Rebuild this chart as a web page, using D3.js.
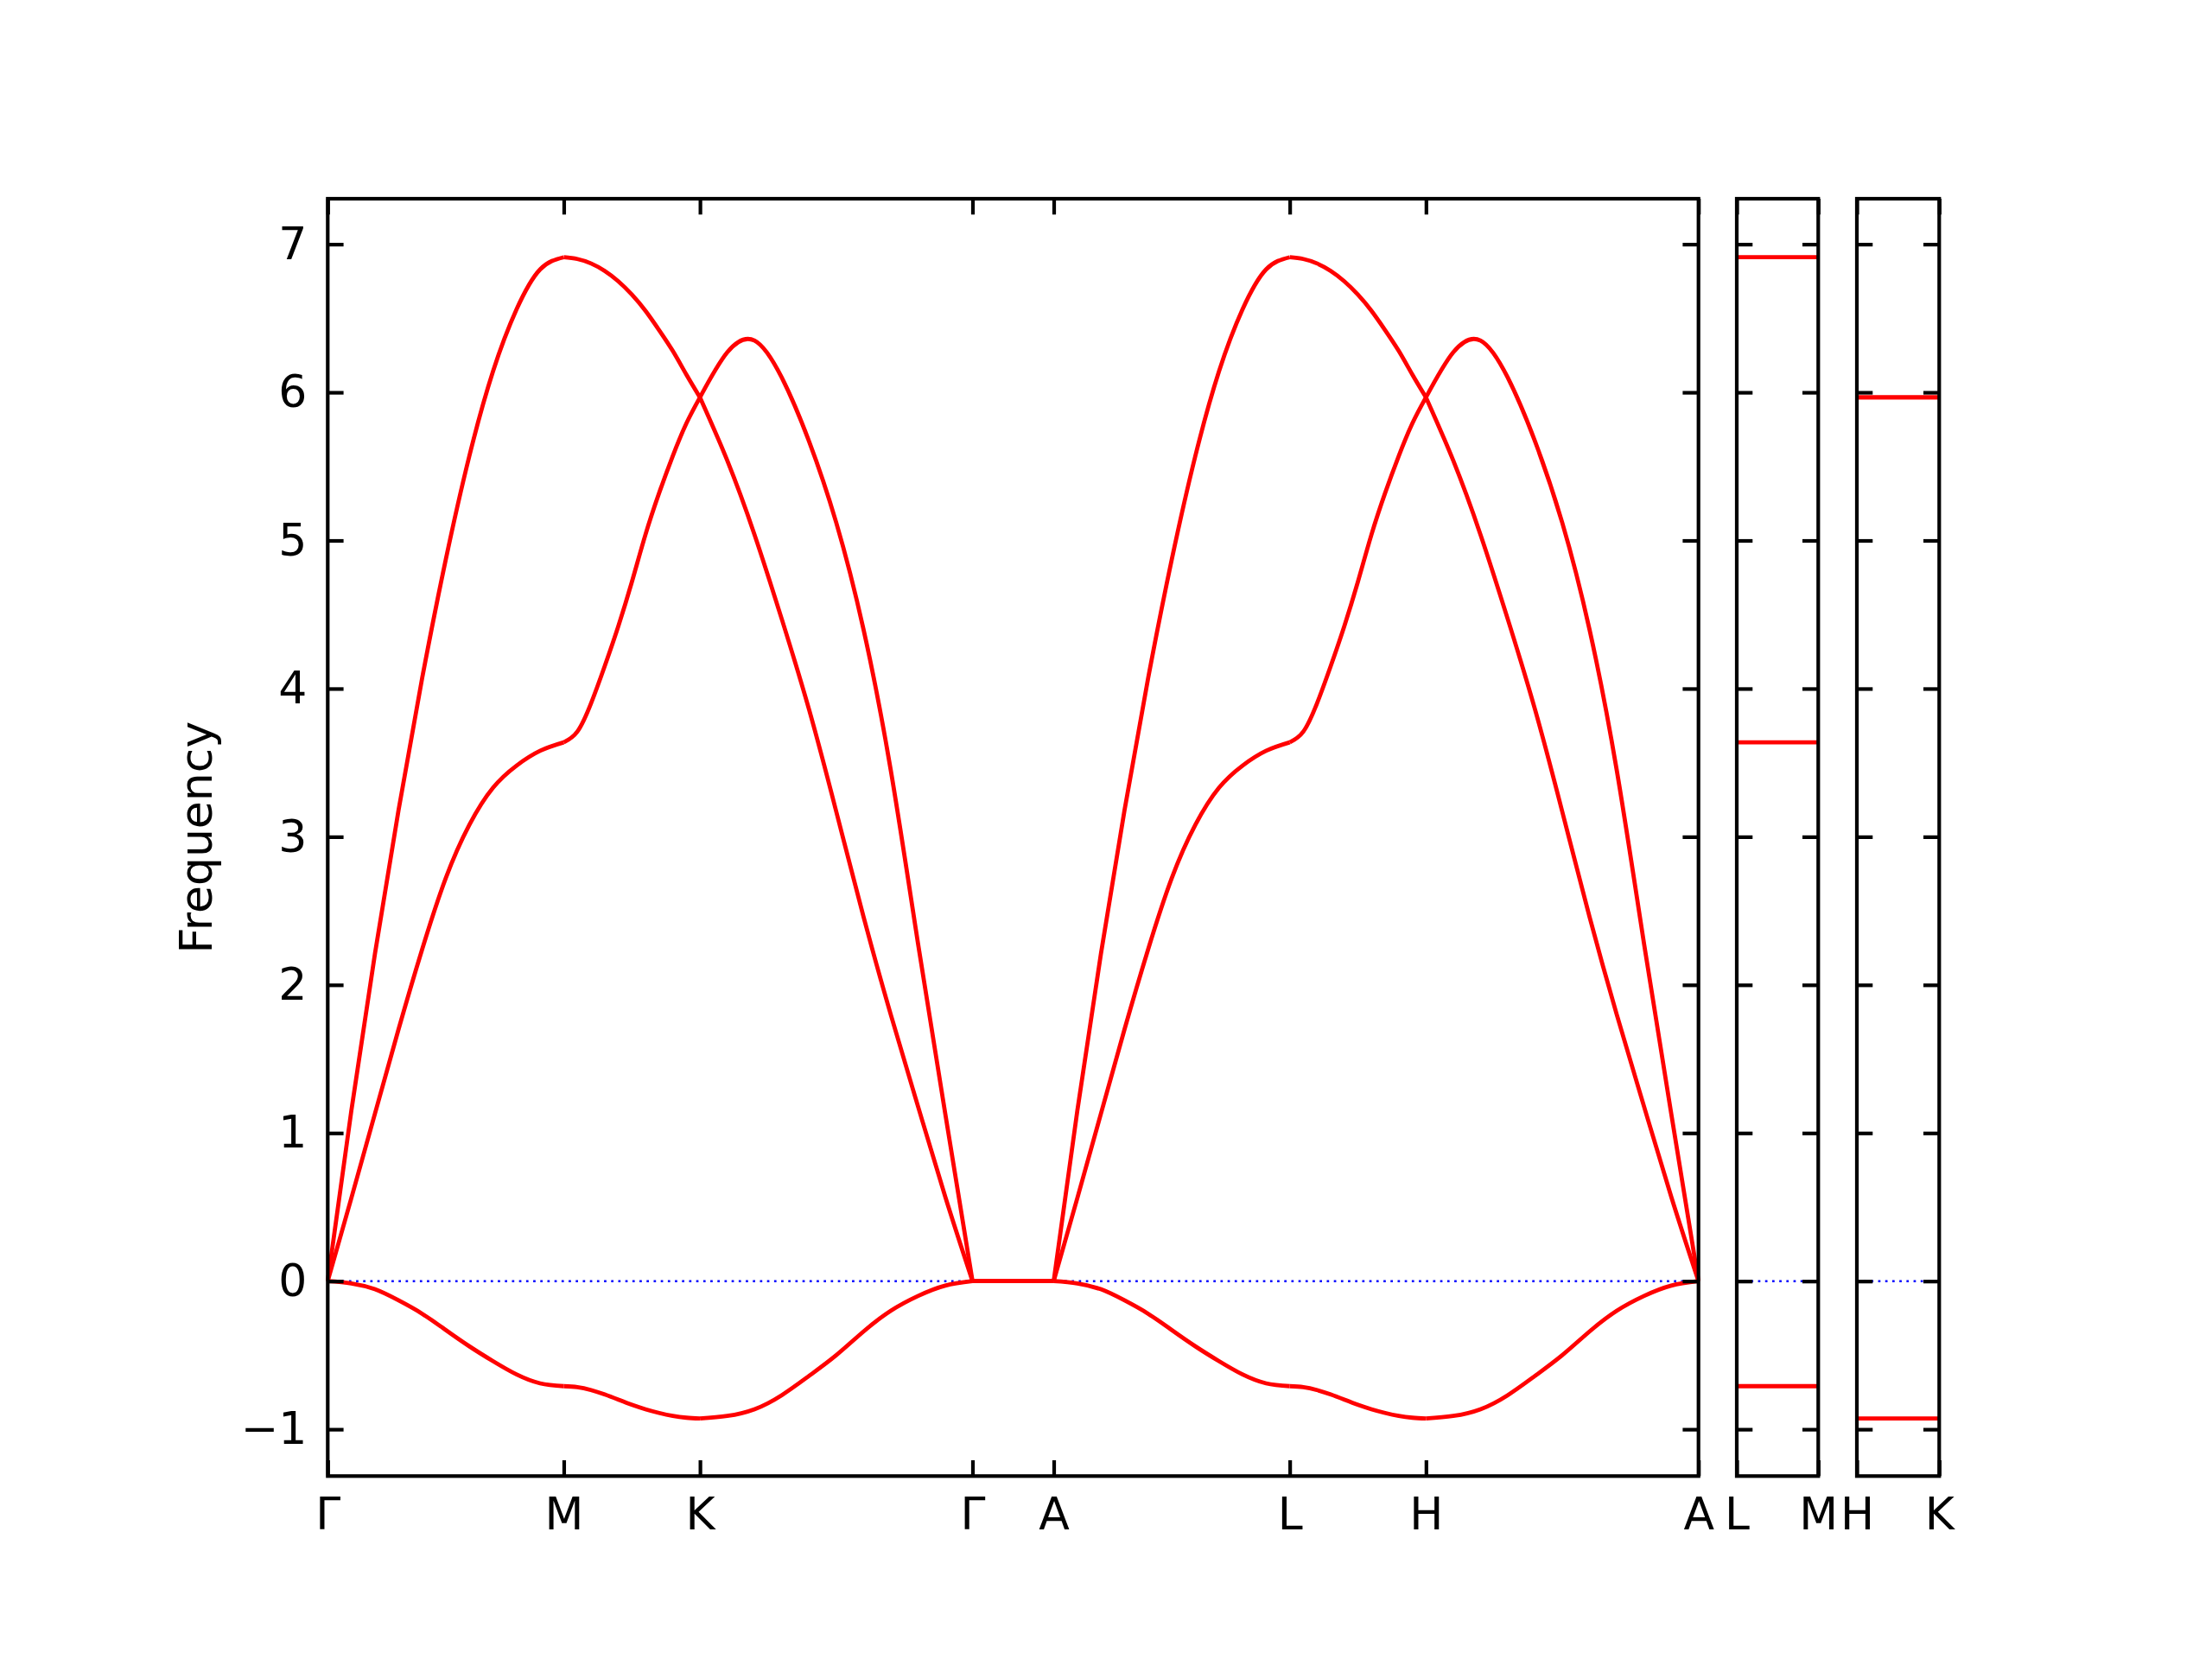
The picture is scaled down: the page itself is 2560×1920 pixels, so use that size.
<!DOCTYPE html>
<html><head><meta charset="utf-8">
<script src="https://cdn.jsdelivr.net/npm/d3@7"></script>
<style>body{margin:0;background:#fff}</style>
</head><body>
<svg id="c" width="2560" height="1920" xmlns="http://www.w3.org/2000/svg"></svg>
<script>
// ---- data ----
// reciprocal-space lengths of the path segments Γ-M, M-K, K-Γ, Γ-A, A-L, L-H, H-A
const segLengths = [0.5774, 0.3333, 0.6667, 0.1987, 0.5774, 0.3333, 0.6667];
const mainTickLabels = ["Γ", "M", "K", "Γ", "A", "L", "H", "A"];
const lmLength = 0.1987;   // L-M panel
const hkLength = 0.1987;   // H-K panel
const lmTickLabels = ["L", "M"];
const hkTickLabels = ["H", "K"];
const yTicks = [-1, 0, 1, 2, 3, 4, 5, 6, 7];
const yLimits = [-1.316, 7.307];

// fractional positions along each segment where band values were read
const kFrac = [0, 0.1, 0.2, 0.3, 0.4, 0.5, 0.6, 0.7, 0.8, 0.9, 1.0];

// upper branch
const upperGM = [0, 1.15, 2.21, 3.18, 4.07, 4.87, 5.57, 6.14, 6.56, 6.83, 6.912];
const upperMK = [6.912, 6.90, 6.87, 6.82, 6.75, 6.66, 6.55, 6.42, 6.28, 6.12, 5.966];
const upperKG = [5.966, 5.54, 5.04, 4.47, 3.86, 3.17, 2.46, 1.80, 1.18, 0.57, 0];
// middle branch
const middleGM = [0, 0.56, 1.13, 1.70, 2.24, 2.72, 3.08, 3.33, 3.48, 3.58, 3.637];
const middleMK = [3.637, 3.71, 3.90, 4.15, 4.42, 4.72, 5.04, 5.32, 5.57, 5.79, 5.966];
const middleKG = [5.966, 6.27, 6.35, 6.10, 5.67, 5.12, 4.40, 3.45, 2.28, 1.13, 0];
// lower (negative) branch
const lowerGM = [0, -0.015, -0.055, -0.13, -0.22, -0.33, -0.44, -0.54, -0.63, -0.69, -0.709];
const lowerMK = [-0.709, -0.715, -0.735, -0.765, -0.80, -0.835, -0.865, -0.89, -0.91, -0.922, -0.927];
const lowerKG = [-0.927, -0.91, -0.865, -0.77, -0.64, -0.50, -0.34, -0.20, -0.10, -0.03, 0];
// Γ-A is flat for all branches
const flatGA = [0, 0, 0, 0, 0, 0, 0, 0, 0, 0, 0];

// side panels: constant bands along L-M and H-K
const lmBands = [6.912, 3.637, -0.709];
const hkBands = [5.966, 5.966, -0.927];

(function () {
// ---- layout ----
const svg = d3.select("#c");
const FONT = "DejaVu Sans, sans-serif";
const FS = 52;
const topY = 230, bottomY = 1708.3;
const mainL = 379.3, mainR = 1965.7;
const lmL = 2010, lmR = 2104.3;
const hkL = 2149, hkR = 2244.3;
const tickLen = 18.3, spineW = 4.2, bandW = 4.8;

const segStarts = [0];
segLengths.forEach((l, i) => segStarts.push(segStarts[i] + l));
const totalLen = segStarts[segStarts.length - 1];

const y = d3.scaleLinear().domain(yLimits).range([bottomY, topY]);
const xMain = d3.scaleLinear().domain([0, totalLen]).range([mainL, mainR]);
const xLM = d3.scaleLinear().domain([0, lmLength]).range([lmL, lmR]);
const xHK = d3.scaleLinear().domain([0, hkLength]).range([hkL, hkR]);

svg.append("rect").attr("width", 2560).attr("height", 1920).attr("fill", "#fff");

// zero lines (blue dotted)
function zeroLine(x) {
  svg.append("line")
    .attr("x1", x.range()[0]).attr("x2", x.range()[1])
    .attr("y1", y(0)).attr("y2", y(0))
    .attr("stroke", "#0000ff").attr("stroke-width", 2.6)
    .attr("stroke-dasharray", "2.7 5.5");
}
zeroLine(xMain); zeroLine(xLM); zeroLine(xHK);

// bands in main panel
const branches = [
  [upperGM, upperMK, upperKG, flatGA, upperGM, upperMK, upperKG],
  [middleGM, middleMK, middleKG, flatGA, middleGM, middleMK, middleKG],
  [lowerGM, lowerMK, lowerKG, flatGA, lowerGM, lowerMK, lowerKG]
];
const line = d3.line().x(d => xMain(d[0])).y(d => y(d[1])).curve(d3.curveNatural);
const gBands = svg.append("g");
branches.forEach(branch => {
  branch.forEach((vals, s) => {
    const pts = vals.map((v, j) => [segStarts[s] + kFrac[j] * segLengths[s], v]);
    gBands.append("path").attr("d", line(pts))
      .attr("fill", "none").attr("stroke", "#ff0000")
      .attr("stroke-width", bandW).attr("stroke-linejoin", "round");
  });
});

// side panel bands
function flatBands(x, len, vals) {
  vals.forEach(v => {
    svg.append("line")
      .attr("x1", x(0)).attr("x2", x(len))
      .attr("y1", y(v)).attr("y2", y(v))
      .attr("stroke", "#ff0000").attr("stroke-width", bandW);
  });
}
flatBands(xLM, lmLength, lmBands);
flatBands(xHK, hkLength, hkBands);

// axes
function styleAxis(g) {
  g.select(".domain").remove();
  g.selectAll(".tick line").attr("stroke", "#000").attr("stroke-width", spineW);
  g.selectAll(".tick text").attr("fill", "#000")
    .style("font-family", FONT).style("font-size", FS + "px");
}

function panel(x, L, R, tickVals, tickLabels, withYLabels) {
  svg.append("g").attr("transform", `translate(${L},0)`)
    .call(d3.axisLeft(y).tickValues(yTicks).tickSize(-tickLen).tickPadding(24)
      .tickFormat(withYLabels ? (d => d < 0 ? "\u2212" + Math.abs(d) : String(d)) : ""))
    .call(styleAxis);
  svg.append("g").attr("transform", `translate(${R},0)`)
    .call(d3.axisRight(y).tickValues(yTicks).tickSize(-tickLen).tickFormat(""))
    .call(styleAxis);
  svg.append("g").attr("transform", `translate(0,${topY})`)
    .call(d3.axisTop(x).tickValues(tickVals).tickSize(-tickLen).tickFormat(""))
    .call(styleAxis);
  svg.append("g").attr("transform", `translate(0,${bottomY})`)
    .call(d3.axisBottom(x).tickValues(tickVals).tickSize(-tickLen).tickPadding(25)
      .tickFormat((d, i) => tickLabels[i]))
    .call(styleAxis);
  svg.append("rect").attr("x", L).attr("y", topY)
    .attr("width", R - L).attr("height", bottomY - topY)
    .attr("fill", "none").attr("stroke", "#000").attr("stroke-width", spineW);
}

panel(xMain, mainL, mainR, segStarts, mainTickLabels, true);
panel(xLM, lmL, lmR, [0, lmLength], lmTickLabels, false);
panel(xHK, hkL, hkR, [0, hkLength], hkTickLabels, false);

// y label
svg.append("text")
  .attr("transform", `translate(245,${(topY + bottomY) / 2}) rotate(-90)`)
  .attr("text-anchor", "middle")
  .style("font-family", FONT).style("font-size", FS + "px")
  .text("Frequency");
})();
</script>
</body></html>
